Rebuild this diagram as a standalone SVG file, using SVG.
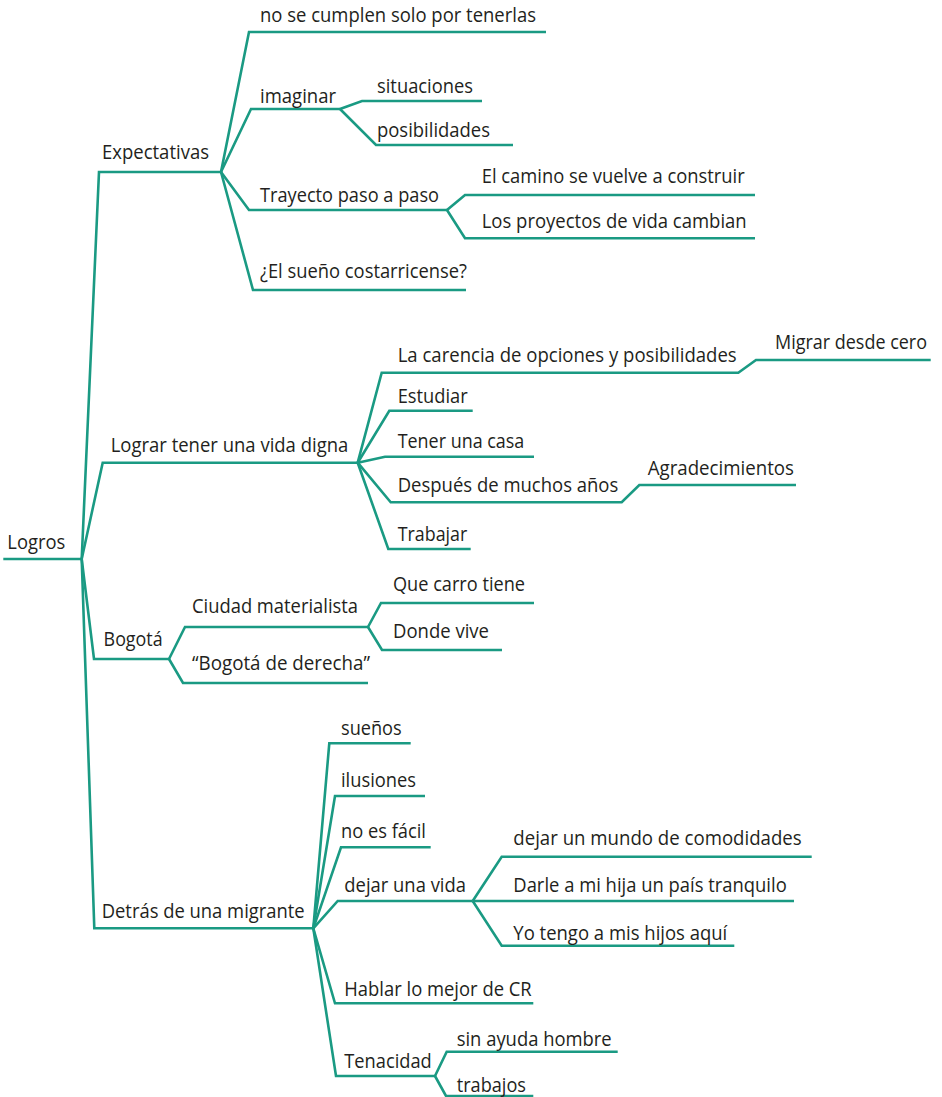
<svg xmlns="http://www.w3.org/2000/svg" width="942" height="1097" viewBox="0 0 942 1097">
<style>
.c{fill:none;stroke:#1a9a83;stroke-width:2.6;stroke-linejoin:miter;stroke-linecap:butt}
text{font-family:"Open Sans","Noto Sans","Liberation Sans",sans-serif;font-size:20.4px;fill:#231f20}
</style>
<rect width="942" height="1097" fill="#ffffff"/>
<g id="connectors">
<polyline class="c" points="3.3,559 81.7,559"/>
<polyline class="c" points="81.7,559 99,172 221,172"/>
<polyline class="c" points="81.7,559 102.7,462.7 357.7,462.7"/>
<polyline class="c" points="81.7,559 94,659 169,659"/>
<polyline class="c" points="81.7,559 94.3,928.3 313.3,928.3"/>
<polyline class="c" points="221,172 249,32 546,32"/>
<polyline class="c" points="221,172 251,109 340,109"/>
<polyline class="c" points="221,172 249,210 447,210"/>
<polyline class="c" points="221,172 253,290 466,290"/>
<polyline class="c" points="340,109 362,101 482,101"/>
<polyline class="c" points="340,109 376,145 513,145"/>
<polyline class="c" points="447,210 465,195 755,195"/>
<polyline class="c" points="447,210 465,238.3 755,238.3"/>
<polyline class="c" points="357.7,462.7 381.7,372.7 738.3,372.7 756,360 930.7,360"/>
<polyline class="c" points="357.7,462.7 389.3,410.7 472.7,410.7"/>
<polyline class="c" points="357.7,462.7 385,456.7 534,456.7"/>
<polyline class="c" points="357.7,462.7 390.7,502.3 621.7,502.3 639.3,485 796,485"/>
<polyline class="c" points="357.7,462.7 388.3,549 470.7,549"/>
<polyline class="c" points="169,659 185,627 368,627"/>
<polyline class="c" points="169,659 183,683 368,683"/>
<polyline class="c" points="368,627 381,603 534,603"/>
<polyline class="c" points="368,627 382,650 502,650"/>
<polyline class="c" points="313.3,928.3 329.3,743.3 410.7,743.3"/>
<polyline class="c" points="313.3,928.3 335,796 425,796"/>
<polyline class="c" points="313.3,928.3 341,847.3 430.7,847.3"/>
<polyline class="c" points="313.3,928.3 337.7,901 472.7,901"/>
<polyline class="c" points="313.3,928.3 335,1003.3 533.3,1003.3"/>
<polyline class="c" points="313.3,928.3 336,1076 435,1076"/>
<polyline class="c" points="472.7,901 501.7,856.7 811.7,856.7"/>
<polyline class="c" points="472.7,901 794,901"/>
<polyline class="c" points="472.7,901 501.7,945.7 734.3,945.7"/>
<polyline class="c" points="435,1076 446.7,1051.7 617.7,1051.7"/>
<polyline class="c" points="435,1076 446,1096 533.3,1096"/>
</g>
<g id="n-logros"><text x="7.3" y="549.3" textLength="58" lengthAdjust="spacingAndGlyphs">Logros</text></g>
<g id="n-expectativas"><text x="102" y="158.5" textLength="107" lengthAdjust="spacingAndGlyphs">Expectativas</text></g>
<g id="n-nosecumplen"><text x="260" y="21.8" textLength="276" lengthAdjust="spacingAndGlyphs">no se cumplen solo por tenerlas</text></g>
<g id="n-imaginar"><text x="260" y="103" textLength="76" lengthAdjust="spacingAndGlyphs">imaginar</text></g>
<g id="n-situaciones"><text x="377" y="92.7" textLength="96" lengthAdjust="spacingAndGlyphs">situaciones</text></g>
<g id="n-posibilidades"><text x="377" y="136.7" textLength="113" lengthAdjust="spacingAndGlyphs">posibilidades</text></g>
<g id="n-trayecto"><text x="260" y="202.3" textLength="179" lengthAdjust="spacingAndGlyphs">Trayecto paso a paso</text></g>
<g id="n-elcamino"><text x="481.7" y="183.3" textLength="263" lengthAdjust="spacingAndGlyphs">El camino se vuelve a construir</text></g>
<g id="n-proyectos"><text x="481.7" y="228.3" textLength="265" lengthAdjust="spacingAndGlyphs">Los proyectos de vida cambian</text></g>
<g id="n-sueno"><text x="260" y="278.3" textLength="207" lengthAdjust="spacingAndGlyphs">¿El sueño costarricense?</text></g>
<g id="n-lograr"><text x="110.7" y="451.7" textLength="237.6" lengthAdjust="spacingAndGlyphs">Lograr tener una vida digna</text></g>
<g id="n-carencia"><text x="397.7" y="362.3" textLength="339" lengthAdjust="spacingAndGlyphs">La carencia de opciones y posibilidades</text></g>
<g id="n-migrar"><text x="775" y="349.3" textLength="152" lengthAdjust="spacingAndGlyphs" style="font-size:19.2px">Migrar desde cero</text></g>
<g id="n-estudiar"><text x="397.7" y="402.7" textLength="70" lengthAdjust="spacingAndGlyphs">Estudiar</text></g>
<g id="n-casa"><text x="397.7" y="448.3" textLength="126.6" lengthAdjust="spacingAndGlyphs">Tener una casa</text></g>
<g id="n-despues"><text x="397.7" y="492.3" textLength="220.6" lengthAdjust="spacingAndGlyphs">Después de muchos años</text></g>
<g id="n-agradecimientos"><text x="647.7" y="475" textLength="146.3" lengthAdjust="spacingAndGlyphs">Agradecimientos</text></g>
<g id="n-trabajar"><text x="397.7" y="540.7" textLength="69.6" lengthAdjust="spacingAndGlyphs">Trabajar</text></g>
<g id="n-bogota"><text x="103.6" y="646" textLength="59" lengthAdjust="spacingAndGlyphs">Bogotá</text></g>
<g id="n-ciudad"><text x="192" y="613.3" textLength="166" lengthAdjust="spacingAndGlyphs">Ciudad materialista</text></g>
<g id="n-derecha"><text x="192" y="670" textLength="178" lengthAdjust="spacingAndGlyphs">“Bogotá de derecha”</text></g>
<g id="n-carro"><text x="393" y="591" textLength="132" lengthAdjust="spacingAndGlyphs">Que carro tiene</text></g>
<g id="n-donde"><text x="393" y="638" textLength="96" lengthAdjust="spacingAndGlyphs">Donde vive</text></g>
<g id="n-detras"><text x="101.7" y="918.3" textLength="203" lengthAdjust="spacingAndGlyphs">Detrás de una migrante</text></g>
<g id="n-suenos"><text x="341" y="735" textLength="60.7" lengthAdjust="spacingAndGlyphs">sueños</text></g>
<g id="n-ilusiones"><text x="341" y="786.7" textLength="75" lengthAdjust="spacingAndGlyphs">ilusiones</text></g>
<g id="n-nofacil"><text x="341" y="837.7" textLength="85" lengthAdjust="spacingAndGlyphs">no es fácil</text></g>
<g id="n-dejarvida"><text x="344.3" y="891.7" textLength="121.7" lengthAdjust="spacingAndGlyphs">dejar una vida</text></g>
<g id="n-mundo"><text x="513.3" y="845" textLength="288.4" lengthAdjust="spacingAndGlyphs">dejar un mundo de comodidades</text></g>
<g id="n-darle"><text x="513.3" y="891.7" textLength="273.4" lengthAdjust="spacingAndGlyphs">Darle a mi hija un país tranquilo</text></g>
<g id="n-yotengo"><text x="513.3" y="940" textLength="214" lengthAdjust="spacingAndGlyphs">Yo tengo a mis hijos aquí</text></g>
<g id="n-hablar"><text x="344.3" y="996" textLength="187.4" lengthAdjust="spacingAndGlyphs">Hablar lo mejor de CR</text></g>
<g id="n-tenacidad"><text x="344.3" y="1068.3" textLength="87.4" lengthAdjust="spacingAndGlyphs">Tenacidad</text></g>
<g id="n-sinayuda"><text x="456.7" y="1046" textLength="155" lengthAdjust="spacingAndGlyphs">sin ayuda hombre</text></g>
<g id="n-trabajos"><text x="456.7" y="1091.7" textLength="69.3" lengthAdjust="spacingAndGlyphs">trabajos</text></g>
</svg>
